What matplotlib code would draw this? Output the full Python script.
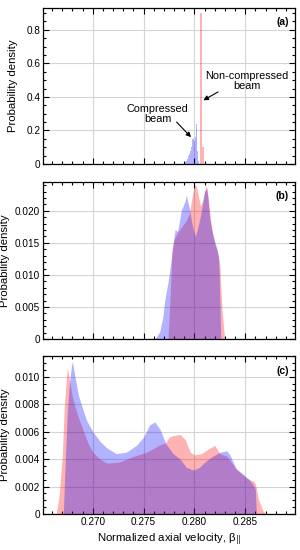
import matplotlib
matplotlib.use("Agg")
import matplotlib.pyplot as plt
from matplotlib.ticker import MultipleLocator, FuncFormatter

plt.rcParams["font.family"] = ["Liberation Sans", "DejaVu Sans"]

# --- Data ----------------------------------------------------------

# (a) initial beams
a_blue_x = [0.2789, 0.2790, 0.2791, 0.2792, 0.2793, 0.2794, 0.2795, 0.2796, 0.2797, 0.2798,
            0.2799, 0.2800, 0.2801, 0.2802, 0.2803, 0.2804]
a_blue_y = [0.0, 0.005, 0.01, 0.02, 0.03, 0.045, 0.06, 0.08, 0.10, 0.15,
            0.15, 0.14, 0.16, 0.24, 0.08, 0.02]
a_red_x = [0.28069, 0.28085]
a_red_y = [0.90, 0.10]

# (b)
b_blue_x = [0.2760, 0.2763, 0.2766, 0.2769, 0.2771, 0.2774, 0.2776, 0.2779, 0.2781, 0.2783,
            0.2784, 0.2787, 0.2789, 0.2791, 0.2792, 0.2795, 0.2797, 0.2799, 0.2801, 0.2803,
            0.2806, 0.2808, 0.2810, 0.2812, 0.2813, 0.2815, 0.2817, 0.2819, 0.2822, 0.2824,
            0.2825, 0.2826]
b_blue_y = [0.0, 0.0004, 0.0012, 0.0035, 0.0062, 0.0088, 0.0110, 0.0147, 0.0171, 0.0168,
            0.0172, 0.0200, 0.0208, 0.0216, 0.0224, 0.0205, 0.0185, 0.0170, 0.0160, 0.0172,
            0.0192, 0.0210, 0.0230, 0.0235, 0.0225, 0.0189, 0.0170, 0.0158, 0.0142, 0.0125,
            0.0060, 0.0]
b_red_x = [0.2774, 0.2776, 0.2778, 0.2780, 0.2783, 0.2786, 0.2789, 0.2792, 0.2795, 0.2797,
           0.2799, 0.2800, 0.2802, 0.2804, 0.2806, 0.2808, 0.2810, 0.2812, 0.2814, 0.2816,
           0.2818, 0.2820, 0.2823, 0.2825, 0.2827, 0.2829, 0.2830]
b_red_y = [0.0, 0.0060, 0.0140, 0.0155, 0.0165, 0.0172, 0.0178, 0.0185, 0.0195, 0.0215,
           0.0232, 0.0241, 0.0238, 0.0222, 0.0208, 0.0215, 0.0230, 0.0240, 0.0215, 0.0185,
           0.0165, 0.0148, 0.0135, 0.0115, 0.0050, 0.0012, 0.0]

# (c)
c_blue_x = [0.2671, 0.2673, 0.2675, 0.2677, 0.2679, 0.2680, 0.2682, 0.2684, 0.2686, 0.2689,
            0.2694, 0.2700, 0.2707, 0.2714, 0.2723, 0.2733, 0.2743, 0.2750, 0.2756, 0.2761,
            0.2766, 0.2772, 0.2779, 0.2786, 0.2792, 0.2799, 0.2805, 0.2812, 0.2818, 0.2825,
            0.2832, 0.2835, 0.2841, 0.2848, 0.2854, 0.2858, 0.2860, 0.2861]
c_blue_y = [0.0, 0.0040, 0.0075, 0.0095, 0.0108, 0.0111, 0.0102, 0.0094, 0.0086, 0.0079,
            0.0068, 0.0060, 0.0053, 0.0048, 0.0044, 0.0045, 0.0050, 0.0056, 0.0065, 0.0067,
            0.0062, 0.0051, 0.0044, 0.0040, 0.0034, 0.0032, 0.0034, 0.0039, 0.0042, 0.0045,
            0.0046, 0.0043, 0.0033, 0.0029, 0.0025, 0.0021, 0.0018, 0.0]
c_red_x = [0.2664, 0.2667, 0.2670, 0.2672, 0.2675, 0.2677, 0.2680, 0.2685, 0.2690, 0.2695,
           0.2700, 0.2707, 0.2714, 0.2727, 0.2740, 0.2753, 0.2765, 0.2772, 0.2775, 0.2779,
           0.2786, 0.2791, 0.2796, 0.2800, 0.2807, 0.2813, 0.2820, 0.2825, 0.2832, 0.2841,
           0.2851, 0.2858, 0.2860, 0.2863, 0.2867, 0.2870]
c_red_y = [0.0, 0.0014, 0.0043, 0.0079, 0.0107, 0.0098, 0.0085, 0.0072, 0.0062, 0.0052,
           0.0045, 0.0040, 0.0037, 0.0038, 0.0042, 0.0045, 0.0050, 0.0052, 0.0056, 0.0057,
           0.0058, 0.0054, 0.0045, 0.0043, 0.0044, 0.0047, 0.0050, 0.0044, 0.0042, 0.0033,
           0.0026, 0.0024, 0.0022, 0.0011, 0.0003, 0.0]

XLIM = (0.2651, 0.2899)
RED = (1.0, 0.0, 0.0)
BLUE = (0.0, 0.0, 1.0)
ALPHA = 0.30


# --- Helpers --------------------------------------------------------

def zero_fmt(dec):
    def f(v, pos):
        if abs(v) < 1e-12:
            return "0"
        return f"{v:.{dec}f}"
    return FuncFormatter(f)


def style(ax, ylim, ymaj, ymin, ydec, label, show_x, ylab_x):
    ax.set_xlim(*XLIM)
    ax.set_ylim(*ylim)
    ax.xaxis.set_major_locator(MultipleLocator(0.005))
    ax.xaxis.set_minor_locator(MultipleLocator(0.001))
    ax.yaxis.set_major_locator(MultipleLocator(ymaj))
    ax.yaxis.set_minor_locator(MultipleLocator(ymin))
    ax.yaxis.set_major_formatter(zero_fmt(ydec))
    ax.xaxis.set_major_formatter(FuncFormatter(lambda v, p: f"{v:.3f}"))
    ax.tick_params(which="both", direction="in", top=True, right=True, labelsize=7.2,
                   width=0.8, pad=2)
    ax.tick_params(which="major", length=4)
    ax.tick_params(which="minor", length=2)
    if not show_x:
        ax.tick_params(labelbottom=False)
    ax.grid(True, which="major", color="#d4d4d4", lw=0.8)
    ax.set_axisbelow(True)
    for s in ax.spines.values():
        s.set_linewidth(0.9)
    ax.set_ylabel("Probability density", fontsize=8.2)
    ax.yaxis.set_label_coords(ylab_x, 0.5)
    ax.text(0.975, 0.94, label, transform=ax.transAxes, ha="right", va="top",
            fontsize=7.5, fontweight="bold")


# --- Figure ---------------------------------------------------------

fig = plt.figure(figsize=(3.0, 5.5), dpi=100)
ax_a = fig.add_axes([0.1433, 0.7018, 0.84, 0.2836])
ax_b = fig.add_axes([0.1433, 0.3836, 0.84, 0.2855])
ax_c = fig.add_axes([0.1433, 0.0655, 0.84, 0.2870])

# (a)
ax_a.bar(a_red_x, a_red_y, width=0.00018, color=RED, alpha=ALPHA, lw=0)
ax_a.bar(a_blue_x, a_blue_y, width=0.0001, color=BLUE, alpha=ALPHA, lw=0)
style(ax_a, (0, 0.93), 0.2, 0.05, 1, "(a)", False, -0.10)
arrow = dict(arrowstyle="-|>", color="k", lw=0.8, mutation_scale=7, shrinkA=0, shrinkB=0)
ax_a.annotate("", xy=(0.28088, 0.38), xytext=(0.28233, 0.43), arrowprops=arrow)
ax_a.text(0.28519, 0.495, "Non-compressed\nbeam", ha="center", va="center",
          fontsize=7.8, linespacing=1.0)
ax_a.annotate("", xy=(0.27967, 0.16), xytext=(0.27825, 0.25), arrowprops=arrow)
ax_a.text(0.2764, 0.30, "Compressed\nbeam", ha="center", va="center",
          fontsize=7.8, linespacing=1.0)

# (b)
ax_b.fill_between(b_red_x, b_red_y, color=RED, alpha=ALPHA, lw=0)
ax_b.fill_between(b_blue_x, b_blue_y, color=BLUE, alpha=ALPHA, lw=0)
style(ax_b, (0, 0.0245), 0.005, 0.001, 3, "(b)", False, -0.13)

# (c)
ax_c.fill_between(c_red_x, c_red_y, color=RED, alpha=ALPHA, lw=0)
ax_c.fill_between(c_blue_x, c_blue_y, color=BLUE, alpha=ALPHA, lw=0)
style(ax_c, (0, 0.0115), 0.002, 0.0005, 3, "(c)", True, -0.13)
ax_c.set_xlabel("Normalized axial velocity, β$_{||}$", fontsize=8.2, labelpad=3)

fig.savefig("out.png", dpi=100)
